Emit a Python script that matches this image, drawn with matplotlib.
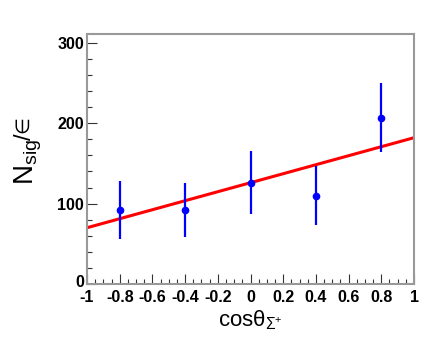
import matplotlib
matplotlib.use("Agg")
import matplotlib.pyplot as plt
import numpy as np
from matplotlib.ticker import MultipleLocator, FixedLocator
from matplotlib.transforms import IdentityTransform, ScaledTranslation

# Data
x_vals = [-0.8, -0.4, 0.0, 0.4, 0.8]
y_vals = [92, 92, 126, 110, 207]
y_err = [36, 34, 39, 37, 43]
fit_intercept = 126
fit_slope = 56
x_ticks = [-1, -0.8, -0.6, -0.4, -0.2, 0, 0.2, 0.4, 0.6, 0.8, 1]
x_ticklabels = ["-1", "-0.8", "-0.6", "-0.4", "-0.2", "0", "0.2", "0.4", "0.6", "0.8", "1"]
y_ticks = [0, 100, 200, 300]

plt.rcParams['font.family'] = ['Liberation Sans', 'DejaVu Sans']
plt.rcParams['mathtext.fontset'] = 'custom'
plt.rcParams['mathtext.rm'] = 'Liberation Sans'
plt.rcParams['mathtext.it'] = 'Liberation Sans'

W, H = 436, 341
fig = plt.figure(figsize=(W/100, H/100), dpi=100)
ax = fig.add_axes([87/W, 1-284/H, (414-87)/W, (284-34)/H])

xf = np.array([-1.0, 1.0])
ax.plot(xf, fit_intercept + fit_slope * xf, color='#ff0000', lw=2.2, zorder=2)
ax.errorbar(x_vals, y_vals, yerr=y_err, fmt='o', color='#0000ff', ms=4.5,
            elinewidth=1.6, capsize=0, zorder=3)

ax.set_xlim(-1, 1)
ax.set_ylim(0, 311)
ax.xaxis.set_major_locator(FixedLocator(x_ticks))
ax.set_xticklabels(x_ticklabels)
ax.xaxis.set_minor_locator(MultipleLocator(0.05))
ax.yaxis.set_major_locator(FixedLocator(y_ticks))
ax.yaxis.set_minor_locator(MultipleLocator(20))

for lab in ax.get_xticklabels() + ax.get_yticklabels():
    lab.set_fontweight('bold')
    lab.set_fontsize(11.5)

ax.tick_params(axis='both', which='both', direction='in', top=False, right=False,
               color='#333333', width=0.8)
ax.tick_params(axis='both', which='major', length=7)
ax.tick_params(axis='both', which='minor', length=3.5)
ax.tick_params(axis='x', which='major', pad=4)
ax.tick_params(axis='y', which='major', pad=2)

# lift the "0" y label slightly (as in the reference) so it clears "-1"
zero_lab = ax.get_yticklabels()[0]
zero_lab.set_transform(zero_lab.get_transform() + ScaledTranslation(0, 3/100, fig.dpi_scale_trans))

for s in ax.spines.values():
    s.set_color('#999999')
    s.set_linewidth(1.5)

ax.set_xlabel(r'cos$\mathregular{\theta_{\Sigma^{+}}}$', fontsize=16, labelpad=3)

# y label built from pieces (ROOT-style N_{sig}/#epsilon)
renderer = fig.canvas.get_renderer()
tr = IdentityTransform()
base_x = 33
start_y = H - 185
t1 = fig.text(base_x, start_y, r'N$_{\mathregular{sig}}$', fontsize=20, rotation=90,
              rotation_mode='anchor', ha='left', va='baseline', transform=tr)
bb = t1.get_window_extent(renderer)
t2 = fig.text(base_x - 2, bb.y1 - 1, '/', fontsize=17, rotation=90,
              rotation_mode='anchor', ha='left', va='baseline', transform=tr)
bb2 = t2.get_window_extent(renderer)
t3 = fig.text(base_x - 5, bb2.y1 + 0.5, '\u2208', fontsize=14, rotation=90,
              rotation_mode='anchor', ha='left', va='baseline', transform=tr,
              family=['DejaVu Sans'])

fig.savefig('out.png', dpi=100)
